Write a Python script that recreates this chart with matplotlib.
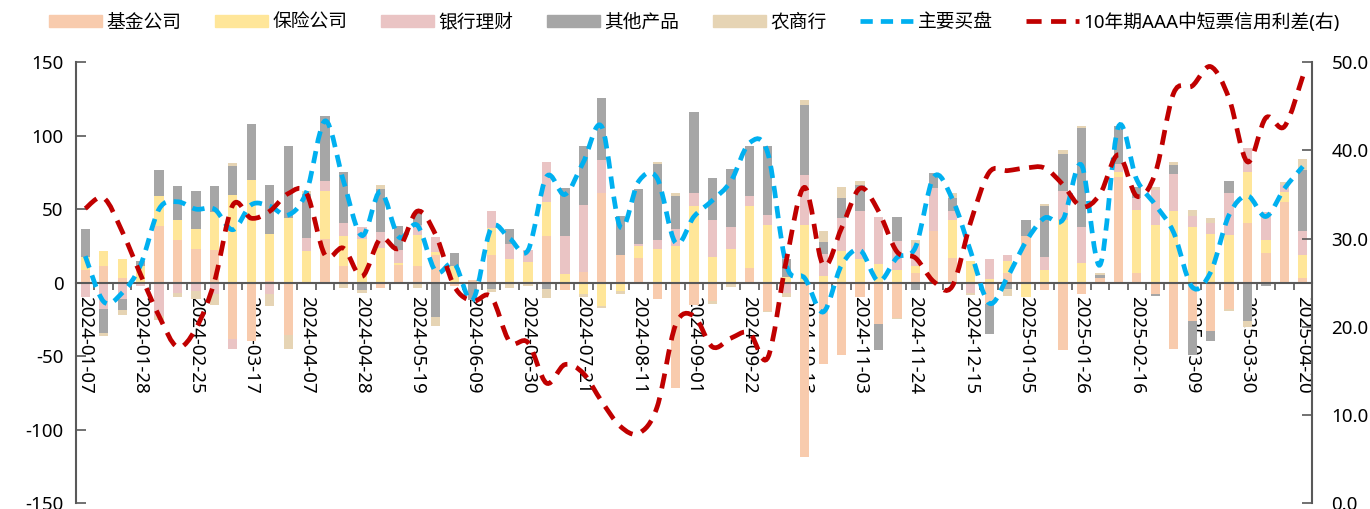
import numpy as np
import pandas as pd
import matplotlib
matplotlib.use("Agg")
import matplotlib.pyplot as plt
from matplotlib.path import Path
from matplotlib.patches import PathPatch, Patch
from matplotlib.lines import Line2D

plt.rcParams['font.family'] = ['Noto Sans', 'Noto Sans CJK SC', 'DejaVu Sans']
plt.rcParams['axes.unicode_minus'] = False

# weekly data, spring festival week of 2024 missing
weeks = pd.date_range("2024-01-07", "2025-04-20", freq="7D")
weeks = weeks[weeks != pd.Timestamp("2024-02-18")]
dates = [d.strftime("%Y-%m-%d") for d in weeks]

fund = [8.6, 11.6, 3.4, 0, 38.6, 29, 23, 22.3, -38.6, -40,
        1.4, -36, -1, 30, 11.6, 0, -4, 12, 11, 19,
        -2, 1.5, 19, 0, 0.7, 31.4, -5, 7.5, 61, 19,
        17, -11.4, -72, -15, -12.5, 0, 9.8, -19.3, 0, -118.6,
        -55.7, -49, -10, -28.4, -24, 6.4, 34.8, 17, 0, -14.8,
        6.4, 31.4, -5.2, -46, -8, 3, 72, 6.4, -7.5, -45.5,
        -26, -33, -18, 40.5, 20, 55, 3.4]
insurance = [9, 10.2, 12.5, 11.6, 20.2, 13.4, 13.4, 26, 59.8, 70,
             31.8, 44, 21.8, 32, 19.8, 30, 23.4, 1, 21.6, 2,
             11.6, 0, 18, 16, 13, 23.4, 5.7, -8, -16, -5.7,
             8, 23, 25, 52, 17.7, 23, 42, 39, 4, 39,
             4.8, 21.6, 16, 12.7, 8.6, 5.2, 0, 25.7, 14.8, 2.5,
             8, -9.5, 8.6, 42.7, 13.6, 0, 3, 43, 39, 48.4,
             38, 33, 32.5, 34.8, 9, 6.8, 15.5]
wealth = [-10, -18, -11.5, -2, -22.7, -6.8, -5.7, -8, -6.8, 0,
          -7.5, 0, 8.4, 7.3, 9, 7.5, 11, 9, 6.4, 10,
          0, 0, 12, 10, 8.6, 27, 25.7, 45.5, 22.7, 0,
          1, 6, 11.4, 9, 25, 14.5, 7.3, 7.3, -6.8, 34,
          15, 22.7, 32.5, 32, 19.8, 13.6, 29.5, 6, -6.8, 13.6,
          4.5, 0, 8.6, 19.3, 24.5, 0, 5.5, 8, 24, 25.7,
          7.3, 7.3, 28.4, 16.4, 19.3, 4.5, 16.4]
others = [19, -16.6, -7.3, 3.2, 17.5, 23.6, 25.7, 17.7, 19.8, 38,
          33, 49, 30, 44, 35, -5.2, 29, 16.4, 8.4, -23.4,
          8.4, -12, -4.5, 10.5, 0, -4.5, 33, 40, 42, 26.6,
          38, 51.6, 22.7, 55, 28.4, 39.8, 33.6, 46.6, 12, 48,
          8, 13.6, 17.7, -17.7, 16, -5.2, 10, 9, 0, -20,
          -4.5, 11.4, 34.8, 25.5, 67, 2.3, 26.4, 7.5, -1.6, 6,
          -23, -6.8, 8, -26, -2.3, 0, 41]
rural = [0, -1.8, -3, 0, -3, -2.7, -5.7, -7.5, 1.8, 0,
         -8.5, -9, 1.8, 0, -4, -1.6, 3, -1, -4, -6,
         0, 0, -2, -3.4, -2, -5.7, 0, -1.8, -1.6, -1.8,
         0, 1.8, 1.6, 0, -1.8, -2.7, 0, -1, -3, 3,
         7.3, 7, 3.2, 0, -1, 3.9, 0, 3, -1.8, 0,
         -4.5, 0, 1.8, 3, 1.8, 1, 0, 0, 1.8, 2.3,
         4, 4, -1, -4.5, 0, 2.3, 7.5]
main_buy = [18, -13, -7, 12, 50, 55, 50, 50, 36, 53,
            52, 46, 62, 110, 69, 32, 62, 31, 39, 7.5,
            13, -12, 37, 30, 22, 72, 60, 82, 106, 38,
            69, 71, 27, 45, 56, 69, 95, 88, 12, 3,
            -20, 12, 22, 1, 17, 24, 72, 57, 21, -14,
            4, 28, 44, 43, 80, 12, 106, 70, 53, 34,
            -3, 7, 46, 59, 45, 64, 79]
spread = [33.4, 34.6, 30.8, 25.9, 21.2, 17.7, 19.8, 25.1, 33.8, 32.3,
          33.1, 35.1, 35.1, 28.1, 28.9, 25.7, 30, 28.9, 33.1, 30.4,
          24.6, 22.9, 23.4, 18.3, 18.2, 13.6, 15.7, 14.7, 11.5, 8.7,
          7.9, 10.9, 20.2, 21.2, 17.7, 18.7, 19.3, 16.5, 27.5, 35.8,
          27, 31.2, 35.7, 33.1, 28.5, 27.8, 25.1, 24.6, 31.9, 37.5,
          37.7, 38, 38, 36.1, 33.6, 35, 39.5, 34.8, 37.4, 46.5,
          47.3, 49.5, 45.9, 38.7, 43.7, 42.7, 48.4]

bar_names = ["基金公司", "保险公司", "银行理财", "其他产品", "农商行"]
bar_colors = ["#F8CBAD", "#FFE699", "#EAC4C4", "#A6A6A6", "#E6D4B4"]
blue = "#00B0F0"
red = "#C00000"
axis_c = "#595959"


def smooth_path(xs, ys):
    # excel-like smoothed line drawn as bezier segments through the points
    xs = np.asarray(xs, float)
    ys = np.asarray(ys, float)
    n = len(xs)
    verts = [(xs[0], ys[0])]
    codes = [Path.MOVETO]
    for i in range(n - 1):
        j0 = max(i - 1, 0)
        j3 = min(i + 2, n - 1)
        c1 = (xs[i] + (xs[i + 1] - xs[j0]) / 6, ys[i] + (ys[i + 1] - ys[j0]) / 6)
        c2 = (xs[i + 1] - (xs[j3] - xs[i]) / 6, ys[i + 1] - (ys[j3] - ys[i]) / 6)
        verts += [c1, c2, (xs[i + 1], ys[i + 1])]
        codes += [Path.CURVE4] * 3
    return Path(verts, codes)


fig = plt.figure(figsize=(13.7, 5.09), dpi=100)
ax = fig.add_axes([0.0555, 0.0118, 0.9022, 0.866])
x = np.arange(len(dates))

pos = np.zeros(len(x))
neg = np.zeros(len(x))
for vals, c in zip([fund, insurance, wealth, others, rural], bar_colors):
    v = np.array(vals, float)
    b = np.where(v >= 0, pos, neg)
    ax.bar(x, v, bottom=b, width=0.5, color=c, zorder=2)
    pos += np.clip(v, 0, None)
    neg += np.clip(v, None, 0)

lw = 3.4
ax.add_patch(PathPatch(smooth_path(x, main_buy), fill=False, edgecolor=blue,
                       lw=lw, linestyle=(0, (2.6, 1.7)), capstyle='butt', zorder=3))

ax.set_xlim(-0.5, len(x) - 0.5)
ax.set_ylim(-150, 150)
ax.set_yticks(range(-150, 151, 50))

ax.spines['top'].set_visible(False)
ax.spines['right'].set_visible(False)
ax.spines['bottom'].set_position(('data', 0))
for s in ['left', 'bottom']:
    ax.spines[s].set_color(axis_c)
    ax.spines[s].set_linewidth(1.5)

ax.set_xticks(x[::3])
ax.set_xticklabels(dates[::3], rotation=-90)
ax.set_xticks(np.arange(-0.5, len(x), 1), minor=True)
ax.tick_params(axis='x', which='major', length=0, pad=10, labelsize=13.5)
ax.tick_params(axis='x', which='minor', length=5, width=1.2, color=axis_c, direction='out')
ax.tick_params(axis='y', direction='in', length=7, width=1.2, color=axis_c,
               labelsize=13.5, pad=9)

ax2 = ax.twinx()
ax2.set_ylim(0, 50)
ax2.set_yticks(range(0, 51, 10))
ax2.set_yticklabels([f"{v:.1f}" for v in range(0, 51, 10)])
for s in ['top', 'bottom', 'left']:
    ax2.spines[s].set_visible(False)
ax2.spines['right'].set_color(axis_c)
ax2.spines['right'].set_linewidth(1.5)
ax2.tick_params(axis='y', direction='in', length=7, width=1.2, color=axis_c,
                labelsize=13.5, pad=14)
ax2.add_patch(PathPatch(smooth_path(x, spread), fill=False, edgecolor=red,
                        lw=lw, linestyle=(0, (3.2, 2.0)), capstyle='butt', zorder=3))

handles = [Patch(color=c) for c in bar_colors]
handles += [Line2D([], [], color=blue, lw=lw, linestyle=(0, (2.6, 1.7))),
            Line2D([], [], color=red, lw=lw, linestyle=(0, (3.2, 2.0)))]
labels = bar_names + ["主要买盘", "10年期AAA中短票信用利差(右)"]
fig.legend(handles, labels, loc='center', bbox_to_anchor=(0.507, 0.957), ncol=7,
           frameon=False, fontsize=13.5, handlelength=2.8, handleheight=0.6,
           handletextpad=0.25, columnspacing=1.8)

fig.savefig("out.png", dpi=100)
